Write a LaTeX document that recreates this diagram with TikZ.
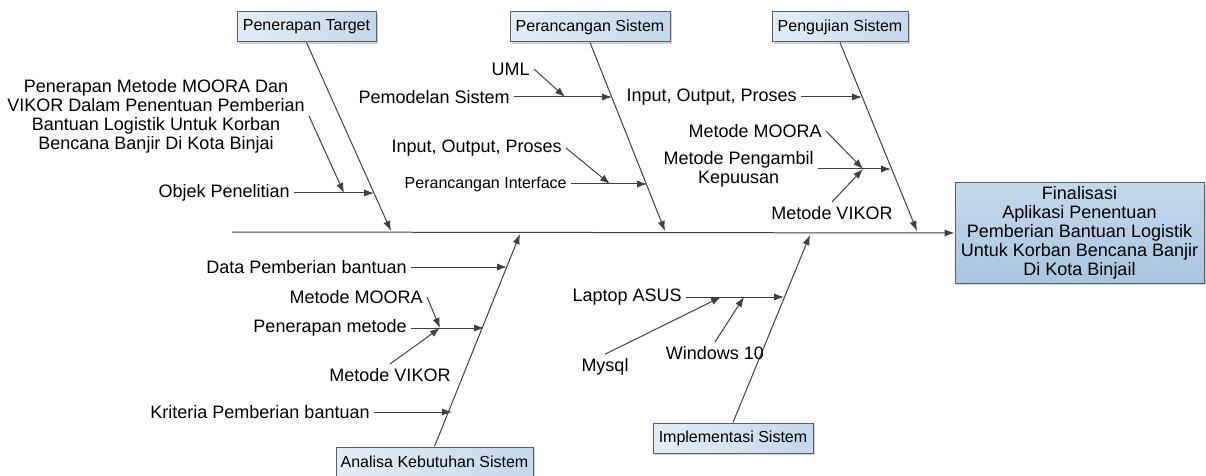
\documentclass[tikz,border=0pt]{standalone}
\usepackage{fontspec}
\setmainfont{Liberation Sans}
\usetikzlibrary{arrows.meta,shadows}

\definecolor{boneline}{HTML}{404040}
\definecolor{boxedge}{HTML}{56606A}
\definecolor{boxleft}{HTML}{E3EDF6}
\definecolor{boxright}{HTML}{C3D8EB}
\definecolor{fintop}{HTML}{C4D8EC}
\definecolor{finbot}{HTML}{A9C5E0}

\tikzset{
	arr/.style={draw=boneline, line width=0.5pt, -{Latex[length=5pt,width=3.6pt]}},
	lbl/.style={font=\fontsize{9}{9.5}\selectfont, inner sep=2pt},
	catbox/.style={draw=boxedge, line width=0.5pt, left color=boxleft, right color=boxright,
		minimum height=15pt, inner sep=1pt, font=\fontsize{8}{9.6}\selectfont,
		drop shadow={shadow xshift=1pt, shadow yshift=-1pt, fill=black, opacity=0.18}}
}

\begin{document}
\begin{tikzpicture}[x=0.5pt,y=-0.5pt]
		\useasboundingbox (0,0) rectangle (1206,476);
		%categories
			\node[catbox, minimum width=69.5pt] (pt) at (306.5,27) {Penerapan Target};
			\node[catbox, minimum width=80pt] (pr) at (590,27) {Perancangan Sistem};
			\node[catbox, minimum width=68pt] (pg) at (840,27) {Pengujian Sistem};
			\node[catbox, minimum width=98.5pt] (an) at (434.5,462) {Analisa Kebutuhan Sistem};
			\node[catbox, minimum width=80pt] (im) at (733,438) {Implementasi Sistem};
			\node[catbox, top color=fintop, bottom color=finbot, minimum width=124.5pt, minimum height=50pt,
				align=center, font=\fontsize{9}{9.5}\selectfont] (fin) at (1079.5,233)
				{Finalisasi\\Aplikasi Penentuan\\Pemberian Bantuan Logistik\\Untuk Korban Bencana Banjir\\Di Kota Binjail};
			
		%spine
			\coordinate (sstart) at (232,232);
			\draw[arr] (sstart) -- (fin.west);
			\coordinate (spt) at (391,231);
			\coordinate (spr) at (665,231);
			\coordinate (spg) at (917,231);
			\coordinate (san) at (520,234);
			\coordinate (sim) at (810,235);
			\foreach \a/\b in {pt.south/spt, pr.south/spr, pg.south/spg, an.north/san, im.north/sim}{
				\draw[arr] (\a) -- (\b);
			}
			
		%causes
			\node[lbl, align=center, anchor=east] (tujuan) at (309,116)
				{Penerapan Metode MOORA Dan\\VIKOR Dalam Penentuan Pemberian\\Bantuan Logistik Untuk Korban\\Bencana Banjir Di Kota Binjai};
			\node[lbl, anchor=east] (objek) at (294,193) {Objek Penelitian};
			\node[lbl, anchor=east] (uml) at (534,69) {UML};
			\node[lbl, anchor=east] (pemodelan) at (514,97) {Pemodelan Sistem};
			\node[lbl, anchor=east] (io1) at (566,148) {Input, Output, Proses};
			\node[lbl, anchor=east, font=\fontsize{8}{9.6}\selectfont] (interface) at (571,184) {Perancangan Interface};
			\node[lbl, anchor=east] (io2) at (801,97) {Input, Output, Proses};
			\node[lbl, anchor=east] (moora1) at (826,131) {Metode MOORA};
			\node[lbl, anchor=east, align=center] (pengambil) at (818,169) {Metode Pengambil\\Kepuusan};
			\node[lbl] (vikor1) at (832,213) {Metode VIKOR};
			\node[lbl, anchor=east] (data) at (411,267) {Data Pemberian bantuan};
			\node[lbl, anchor=east] (moora2) at (427,297) {Metode MOORA};
			\node[lbl, anchor=east] (penmet) at (411,328) {Penerapan metode};
			\node[lbl] (vikor2) at (390,375) {Metode VIKOR};
			\node[lbl, anchor=east] (kriteria) at (374,412) {Kriteria Pemberian bantuan};
			\node[lbl, anchor=east] (laptop) at (686,297) {Laptop ASUS};
			\node[lbl] (mysql) at (605,367) {Mysql};
			\node[lbl] (windows) at (715,353) {Windows 10};
			
			\coordinate (cobj) at (374,193);
			\coordinate (ctuj) at (344,193);
			\coordinate (cpem) at (612,97);
			\coordinate (cuml) at (565,97);
			\coordinate (cint) at (647,184);
			\coordinate (cio) at (610,184);
			\coordinate (cio2) at (862,97);
			\coordinate (cpeng) at (891,169);
			\coordinate (cmet) at (863,169);
			\coordinate (cdata) at (507,267);
			\coordinate (cpen) at (484,328);
			\coordinate (cmm) at (440,328);
			\coordinate (ckri) at (452,412);
			\coordinate (clap) at (784,297);
			\coordinate (cmy) at (721,297);
			\coordinate (cwin) at (744,297);
			
			\foreach \a/\b in {objek.east/cobj, tujuan.east/ctuj, pemodelan.east/cpem, uml.east/cuml,
				interface.east/cint, io1.east/cio, io2.east/cio2, pengambil.east/cpeng, moora1.east/cmet,
				vikor1.north/cmet, data.east/cdata, penmet.east/cpen, moora2.east/cmm, vikor2.north/cmm,
				kriteria.east/ckri, laptop.east/clap, mysql.north/cmy, windows.north/cwin}{
				\draw[arr] (\a) -- (\b);
			}
		\end{tikzpicture}
\end{document}
